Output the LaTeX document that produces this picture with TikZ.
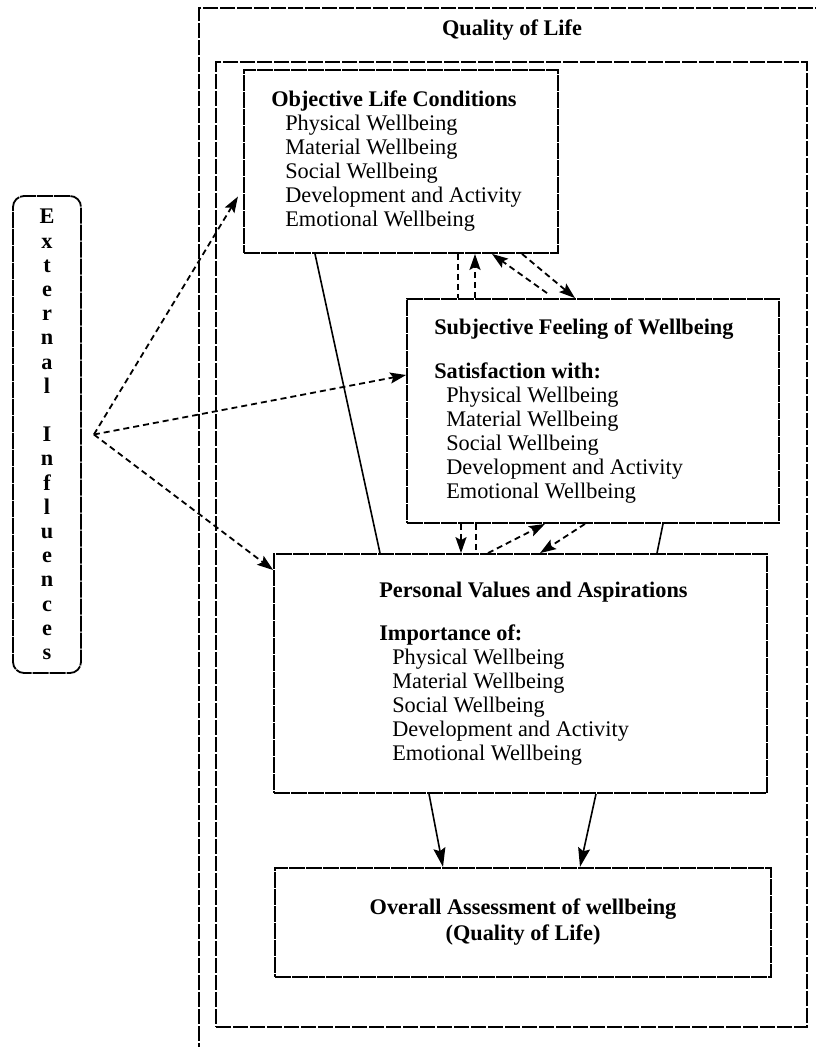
\documentclass[tikz,border=0pt]{standalone}
\usepackage{fontspec}
\setmainfont{Liberation Serif}
\usepackage{pgf}
\usepackage{tikz}
\usetikzlibrary{arrows.meta}
\usetikzlibrary{positioning}
\tikzset{box/.style={draw, line width=1.8pt, dash pattern=on 16pt off 1pt, inner sep=0pt}}

\newcommand{\wellbeing}[1]{%
  \hspace*{#1}Physical Wellbeing\\
  \hspace*{#1}Material Wellbeing\\
  \hspace*{#1}Social Wellbeing\\
  \hspace*{#1}Development and Activity\\
  \hspace*{#1}Emotional Wellbeing}

\begin{document}
\begin{tikzpicture}[>={Stealth[length=16pt,width=11pt,inset=3pt]},
      x=1pt, y=-1pt,
      font=\fontsize{22.3pt}{24pt}\selectfont,
      frame/.style={box, dash pattern=on 15pt off 2pt},
      list/.style={align=left, inner sep=0pt},
      flow/.style={line width=1.8pt, dash pattern=on 6pt off 4pt},
      link/.style={line width=1.6pt}]

    \useasboundingbox (0,0) rectangle (816,1047);

    % frames
    \node[frame, minimum width=631pt, minimum height=1052pt]
      (Outer) at (514.5,534) {};
    \node[frame, minimum width=591pt, minimum height=965pt]
      (Inner) at (511.5,544.5) {};
    \node[font=\fontsize{22.3pt}{24pt}\selectfont\bfseries]
      (QualityOfLife) at (512,30) {Quality of Life};

    % boxes
    \node[box, minimum width=314pt, minimum height=183pt]
      (Objective) at (401,161.5) {};
    \node[list]
      (ObjectiveText) [right=28pt of Objective.west]
      {\textbf{Objective Life Conditions}\\ \wellbeing{14pt}};

    \node[box, minimum width=372pt, minimum height=224pt]
      (Subjective) at (593,411) {};
    \node[list]
      (SubjectiveText) [right=28pt of Subjective.west]
      {\textbf{Subjective Feeling of Wellbeing}\\[20pt]
       \textbf{Satisfaction with:}\\ \wellbeing{12pt}};

    \node[box, minimum width=493pt, minimum height=239pt]
      (Personal) at (520.5,673.5) {};
    \node[list]
      (PersonalText) [right=106pt of Personal.west]
      {\textbf{Personal Values and Aspirations}\\[19pt]
       \textbf{Importance of:}\\ \wellbeing{13pt}};

    \node[box, minimum width=496pt, minimum height=109pt, align=center,
          font=\fontsize{22.3pt}{24pt}\selectfont\bfseries]
      (Overall) [below=73pt of Personal, xshift=2.5pt]
      {Overall Assessment of wellbeing\\[2pt](Quality of Life)};

    \node[box, rounded corners=11pt, minimum width=68pt, minimum height=477pt,
          align=center, font=\fontsize{22.3pt}{24.2pt}\selectfont\bfseries]
      (External) at (47,434.5)
      {E\\x\\t\\e\\r\\n\\a\\l\\[24.2pt]I\\n\\f\\l\\u\\e\\n\\c\\e\\s};
    \coordinate (Source) at ([xshift=12pt]External.east);

    % external influences
    \path[->]
      (Source) edge [flow, shorten >=10pt] ([yshift=-26.5pt]Objective.west)
      (Source) edge [flow] ([yshift=36pt]Subjective.west)
      (Source) edge [flow] ([yshift=103.5pt]Personal.west);

    % objective <-> subjective
    \path[->]
      ([xshift=57pt]Objective.south) edge [flow, -] ([xshift=-135pt]Subjective.north)
      ([xshift=-118pt]Subjective.north) edge [flow] ([xshift=74pt]Objective.south)
      ([xshift=-46pt,yshift=5pt]Subjective.north) edge [flow] ([xshift=91pt]Objective.south)
      ([xshift=121pt]Objective.south) edge [flow] ([xshift=-18pt]Subjective.north);

    % subjective <-> personal
    \path[->]
      ([xshift=-132pt]Subjective.south) edge [flow] ([xshift=-59.5pt]Personal.north)
      ([xshift=-117pt]Subjective.south) edge [flow, -] ([xshift=-44.5pt]Personal.north)
      ([xshift=-32.5pt]Personal.north) edge [flow] ([xshift=-48pt]Subjective.south)
      ([xshift=-8pt]Subjective.south) edge [flow] ([xshift=19.5pt]Personal.north);

    % solid links behind the boxes
    \path[-]
      ([xshift=70pt]Subjective.south) edge [link] ([xshift=136.5pt]Personal.north)
      ([xshift=-86pt]Objective.south) edge [link] ([xshift=-140.5pt]Personal.north);

    % personal -> overall
    \path[-{Stealth[length=19pt,width=12pt,inset=3pt]}]
      ([xshift=-91.5pt]Personal.south) edge [link] ([xshift=-80pt]Overall.north)
      ([xshift=75.5pt]Personal.south) edge [link] ([xshift=57pt]Overall.north);

  \end{tikzpicture}
\end{document}
